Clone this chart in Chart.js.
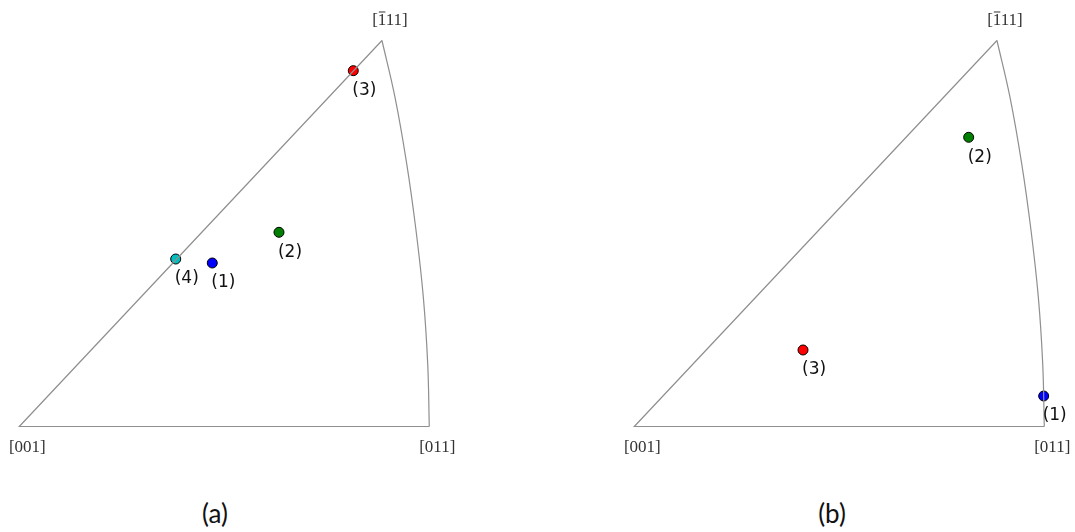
<!DOCTYPE html>
<html>
<head>
<meta charset="utf-8">
<script src="https://cdn.jsdelivr.net/npm/chart.js@4/dist/chart.umd.min.js"></script>
<style>
    body { margin: 0; background: #fff; }
    #wrap { position: relative; width: 1075px; height: 532px; overflow: hidden; }
    canvas { position: absolute; top: 0; }
    .cap { position: absolute; top: 497px; font-family: Lato, "Open Sans", sans-serif; font-size: 26px; color: #111; width: 80px; text-align: center; }
</style>
</head>
<body>
<div id="wrap">
    <canvas id="chartA" width="480" height="470" style="left:0px"></canvas>
    <canvas id="chartB" width="480" height="470" style="left:615px"></canvas>
    <div class="cap" style="left:175px">(a)</div>
    <div class="cap" style="left:792px">(b)</div>
</div>
<script>
// triangle corners: [001], [011], [-111]  (bar drawn over the first digit of the last one)
var vertexNames = ['[001]', '[011]', '[111]'];
var vertexBar = [false, false, true];
var vertexX = [0, 1, 0.8846];
var vertexY = [0, 0, 1];

// curved edge from [011] up to [-111]
var arcX = [1, 0.9961, 0.9854, 0.9676, 0.9449, 0.9163, 0.8846];
var arcY = [0, 0.1635, 0.3358, 0.5084, 0.681, 0.8533, 1];

var colors = ['#0000ff', '#008000', '#ff0000', '#00bfbf'];

// panel (a)
var labelsA = ['(1)', '(2)', '(3)', '(4)'];
var xA = [0.4707, 0.6334, 0.8146, 0.3815];
var yA = [0.4236, 0.5031, 0.9218, 0.4339];

// panel (b)
var labelsB = ['(1)', '(2)', '(3)'];
var xB = [0.9985, 0.8156, 0.4115];
var yB = [0.0790, 0.7492, 0.1982];

var labelPlugin = {
    id: 'ipfLabels',
    afterDatasetsDraw: function (chart) {
        let ctx = chart.ctx;
        let sx = chart.scales.x;
        let sy = chart.scales.y;
        ctx.save();

        // corner names
        ctx.font = '17px "Liberation Serif", serif';
        ctx.fillStyle = '#333';
        ctx.strokeStyle = '#333';
        ctx.textAlign = 'left';
        ctx.textBaseline = 'middle';
        for (let i = 0; i < vertexNames.length; i++) {
            let w = ctx.measureText(vertexNames[i]).width;
            let px = sx.getPixelForValue(vertexX[i]) + 8 - w / 2;
            let py = sy.getPixelForValue(vertexY[i]);
            py += (vertexY[i] > 0.5) ? -20 : 21;
            ctx.fillText(vertexNames[i], px, py);
            if (vertexBar[i]) {
                let b0 = ctx.measureText('[').width;
                let b1 = ctx.measureText('[1').width;
                ctx.lineWidth = 1;
                ctx.beginPath();
                ctx.moveTo(px + b0 + 1, py - 8.5);
                ctx.lineTo(px + b1 - 1, py - 8.5);
                ctx.stroke();
            }
        }

        // point labels
        ctx.font = '17px "DejaVu Sans", sans-serif';
        ctx.fillStyle = '#111';
        chart.data.datasets.forEach(function (ds, di) {
            if (!ds.pointLabel) return;
            let meta = chart.getDatasetMeta(di);
            meta.data.forEach(function (el) {
                ctx.fillText(ds.pointLabel, el.x - 1, el.y + 20);
            });
        });
        ctx.restore();
    }
};

function makeChart(id, labels, xs, ys) {
    let datasets = [
        {
            data: [
                { x: vertexX[2], y: vertexY[2] },
                { x: vertexX[0], y: vertexY[0] },
                { x: vertexX[1], y: vertexY[1] }
            ],
            showLine: true,
            borderColor: '#8f8f8f',
            borderWidth: 1.2,
            pointRadius: 0,
            tension: 0
        },
        {
            data: arcX.map(function (v, i) { return { x: v, y: arcY[i] }; }),
            showLine: true,
            borderColor: '#8f8f8f',
            borderWidth: 1.2,
            pointRadius: 0,
            tension: 0.4
        }
    ];

    for (let i = 0; i < labels.length; i++) {
        datasets.push({
            data: [{ x: xs[i], y: ys[i] }],
            pointLabel: labels[i],
            backgroundColor: colors[i],
            borderColor: '#000',
            borderWidth: 1,
            pointRadius: 5,
            showLine: false
        });
    }

    return new Chart(document.getElementById(id).getContext('2d'), {
        type: 'scatter',
        data: { datasets: datasets },
        options: {
            responsive: false,
            animation: false,
            devicePixelRatio: 1,
            layout: { padding: 0, autoPadding: false },
            plugins: {
                legend: { display: false },
                tooltip: { enabled: false }
            },
            scales: {
                x: { type: 'linear', display: false, min: -0.0471, max: 1.1237 },
                y: { type: 'linear', display: false, min: -0.1127, max: 1.1049 }
            }
        },
        plugins: [labelPlugin]
    });
}

makeChart('chartA', labelsA, xA, yA);
makeChart('chartB', labelsB, xB, yB);
</script>
</body>
</html>
